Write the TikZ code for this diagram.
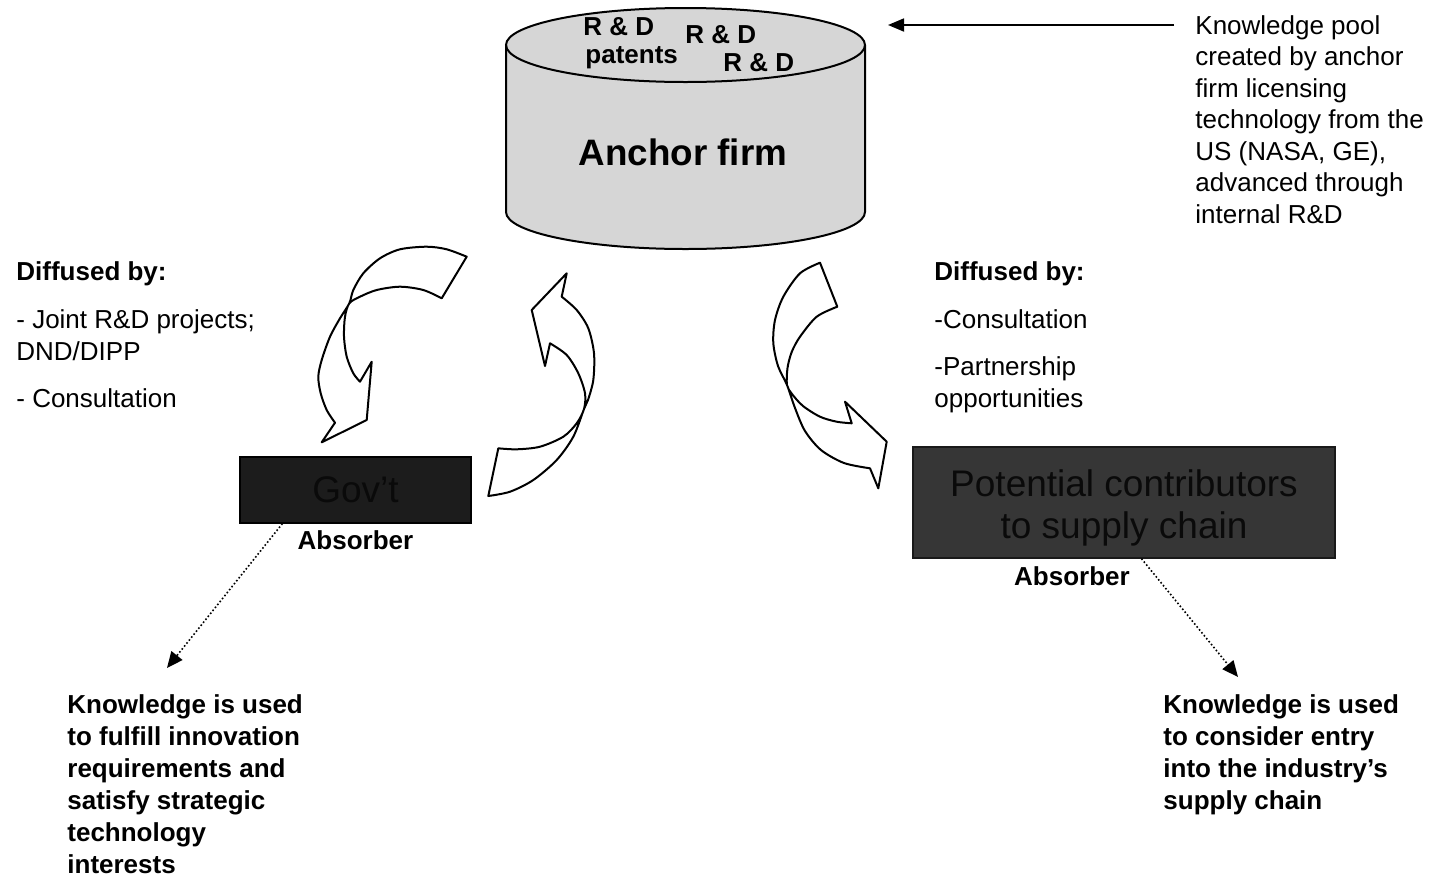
\documentclass[tikz,border=0pt]{standalone}
\usepackage{fontspec}
\setmainfont{Liberation Sans}
\usetikzlibrary{arrows.meta,calc}

\definecolor{cylgray}{gray}{0.84}
\definecolor{govfill}{gray}{0.11}
\definecolor{potfill}{gray}{0.21}
\definecolor{boxtext}{gray}{0.04}

\begin{document}
\begin{tikzpicture}[x=0.5pt,y=-0.5pt,
  % multi-line blocks are placed by the baseline of their last line
  body/.style={font=\fontsize{13}{16}\selectfont, inner sep=0pt, anchor=base west, align=left},
  bodybold/.style={body, font=\fontsize{13}{16}\selectfont\bfseries},
  rdlabel/.style={font=\fontsize{13}{16}\selectfont\bfseries, inner sep=0pt, anchor=base west},
  bigtext/.style={font=\fontsize{18.5}{20.75}\selectfont, text=boxtext, align=center, inner sep=0pt},
  govbox/.style={draw=black, line width=0.6pt, fill=govfill, minimum width=115.5pt, minimum height=33pt, inner sep=0pt, font=\fontsize{18.5}{20.75}\selectfont, text=boxtext},
  potbox/.style={draw=black!90, line width=0.6pt, fill=potfill, minimum width=211pt, minimum height=55.5pt, inner sep=0pt},
  curvarrow/.style={draw=black, fill=white, line width=1pt, line join=round},
  dotarrow/.style={line width=0.8pt, dash pattern=on 0.8pt off 1.1pt, -{Triangle[length=8pt,width=7pt]}},
  poolarrow/.style={line width=0.9pt, -{Triangle[length=8pt,width=6.5pt]}}
]
\useasboundingbox (0,0) rectangle (1433,879);

% ---------- anchor firm cylinder ----------
\fill[cylgray] (506,45) -- (506,212)
  arc[start angle=180, end angle=0, x radius=179.5, y radius=37]
  -- (865,45)
  arc[start angle=360, end angle=180, x radius=179.5, y radius=37] -- cycle;
\draw[line width=1pt] (506,45) -- (506,212)
  arc[start angle=180, end angle=0, x radius=179.5, y radius=37]
  -- (865,45);
\draw[line width=1pt] (685.5,45) ellipse[x radius=179.5, y radius=37];

\node[rdlabel] (rd1) at (583,35) {R \& D};
\node[rdlabel] (pat) at (585,63) {patents};
\node[rdlabel] (rd2) at (685,43) {R \& D};
\node[rdlabel] (rd3) at (723,71) {R \& D};
\node[font=\fontsize{18.4}{22}\selectfont\bfseries, inner sep=0pt, anchor=base] (firm) at (683,165) {Anchor firm};

% ---------- knowledge pool note ----------
\node[body, font=\fontsize{13}{15.75}\selectfont] (pool) at (1195,223)
  {Knowledge pool\\created by anchor\\firm licensing\\technology from the\\US (NASA, GE),\\advanced through\\internal R\&D};
\coordinate (poolstart) at (1174,25);
\coordinate (pooltip) at (888,25);
\draw[poolarrow] (poolstart) -- (pooltip);

% ---------- diffusion channels ----------
\node[bodybold] (ldiff) at (16,280) {Diffused by:};
\node[body] (ljoint) at (16,360) {- Joint R\&D projects;\\DND/DIPP};
\node[body] (lcons) at (16,407) {- Consultation};

\node[bodybold] (rdiff) at (934,280) {Diffused by:};
\node[body] (rcons) at (934,328) {-Consultation};
\node[body] (rpart) at (934,407) {-Partnership\\opportunities};

% ---------- curved flow arrows ----------
% anchor firm -> government
\draw[curvarrow]
  plot[smooth] coordinates {(466.7,256.7) (446.7,249.3) (426.7,246.7) (400,249.3) (380,258.3) (363.3,273.3) (353.3,290) (349.3,303.3) (340,318.3) (330,336.7) (321.7,360) (318.3,376.7) (320.7,393.3) (326.7,410) (335,422.7)}
  -- (321.7,442.3) -- (366.7,420) -- (371.7,361.7)
  -- plot[smooth] coordinates {(360,381.7) (353.3,373.3) (346.7,356.7) (344,336.7) (345,316.7) (349.3,303.3) (360,296.7) (376.7,290) (400,286.7) (423.3,290) (441.7,298.3)}
  -- cycle;

% government -> anchor firm
\draw[curvarrow]
  (566.7,273.3) -- (561.7,296.7)
  -- plot[smooth] coordinates {(561.7,296.7) (576.7,310) (588.3,328.3) (594,353.3) (593.3,380) (588,400) (584,409) (573.3,436.7) (556.7,460) (533.3,480) (510,491.7) (488.3,496)}
  -- (498.3,448.3)
  -- plot[smooth] coordinates {(498.3,448.3) (516.7,449.3) (540,446.7) (563.3,436.7) (576.7,423.3) (584,409) (585,393.3) (578.3,373.3) (566.7,355) (550,343.3)}
  -- (545,366) -- (531.7,310) -- cycle;

% anchor firm -> potential contributors
\draw[curvarrow]
  plot[smooth] coordinates {(820,262.7) (800,273.3) (783.3,296.7) (775,320) (773.3,343) (778,366) (787,385) (795,408) (805,431) (821,450) (844,463) (870,468.3)}
  -- (878.3,488.3) -- (886.7,441.7) -- (845,401.7)
  -- plot[smooth] coordinates {(851.7,423.3) (836.7,421.7) (820,416.7) (803,406) (792,394) (787,385) (787.5,368) (791.7,352) (800,336.7) (816.7,316.7) (837.3,306.7)}
  -- cycle;

% ---------- absorbers ----------
\node[govbox] (gov) at (355.5,490) {Gov’t};
\node[font=\fontsize{13}{16}\selectfont\bfseries, inner sep=0pt] (govabs) at (355.5,540) {Absorber};

\node[potbox] (pot) at (1124,502.5) {};
\node[bigtext] (pottext) at (1124,508) {Potential contributors\\to supply chain};
\node[font=\fontsize{13}{16}\selectfont\bfseries, inner sep=0pt] (potabs) at (1072,576) {Absorber};

% ---------- use of knowledge ----------
\coordinate (govuse) at (167,668);
\coordinate (potuse) at (1238,677);
\draw[dotarrow] ($(gov.south west)+(43,0)$) -- (govuse);
\draw[dotarrow] ($(pot.south west)+(229,0)$) -- (potuse);

\node[bodybold] (govtext) at (67,873)
  {Knowledge is used\\to fulfill innovation\\requirements and\\satisfy strategic\\technology\\interests};
\node[bodybold] (pottext2) at (1163,809)
  {Knowledge is used\\to consider entry\\into the industry’s\\supply chain};
\end{tikzpicture}
\end{document}
